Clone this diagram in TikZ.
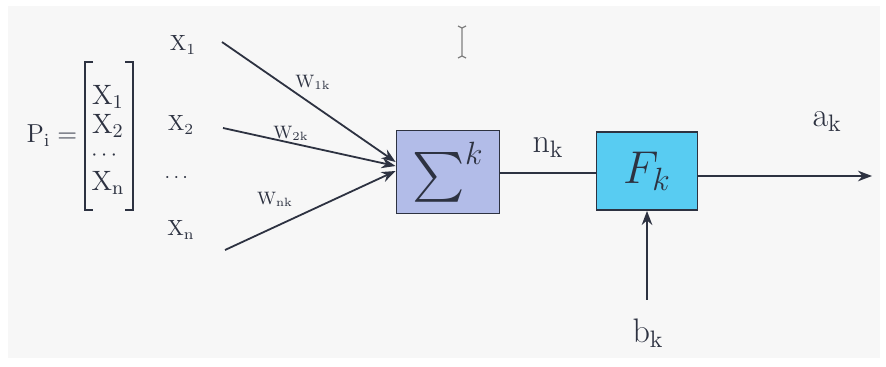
\documentclass[tikz,border=0pt]{standalone}
\usepackage{fix-cm}
\usepackage{tikz}
\usetikzlibrary{arrows.meta,positioning}
\usepackage{amsmath}
\definecolor{sumblue}{RGB}{178,188,232}
\definecolor{fcyan}{RGB}{88,204,242}
\definecolor{ink}{RGB}{45,50,65}

\begin{document}
\begin{tikzpicture}[x=0.5pt, y=-0.5pt, line width=0.9pt, draw=ink, text=ink]
            % Frame
            \useasboundingbox (0,0) rectangle (886,367);
            \fill[gray!6] (8,6) rectangle (880,358);

            % Input vector
            \node (pi) at (52,136) {\fontsize{13}{15}\selectfont $\mathrm{P_{i}} =$};
            \node[inner sep=0pt] (e1) at (108,97) {\fontsize{14}{14}\selectfont $\mathrm{X_1}$};
            \node[inner sep=0pt] (e2) at (108,126) {\fontsize{14}{14}\selectfont $\mathrm{X_2}$};
            \node[inner sep=0pt] (ed) at (106,156) {\fontsize{11}{11}\selectfont $\cdots$};
            \node[inner sep=0pt] (en) at (108,183) {\fontsize{14}{14}\selectfont $\mathrm{X_n}$};
            \draw (93,62) -- (85,62) -- (85,210) -- (93,210);
            \draw (125,62) -- (133,62) -- (133,210) -- (125,210);

            % Inputs
            \node (x1) at (183,45) {\fontsize{11}{13}\selectfont $\mathrm{X_1}$};
            \node (x2) at (181,125) {\fontsize{11}{13}\selectfont $\mathrm{X_2}$};
            \node (xd) at (178,178) {\fontsize{10}{12}\selectfont $\cdots$};
            \node (xn) at (181,230) {\fontsize{11}{13}\selectfont $\mathrm{X_n}$};
            \coordinate (s1) at (222,42);
            \coordinate (s2) at (223,128);
            \coordinate (sn) at (225,250);

            % Blocks
            \node[draw, fill=sumblue, minimum width=51.5pt, minimum height=41.5pt, inner sep=0pt] (sum) at (448,172)
                {\fontsize{23}{26}\selectfont $\sum\nolimits^{\scriptstyle k}$};
            \node[draw, fill=fcyan, minimum width=50.5pt, minimum height=39pt, inner sep=0pt] (f) at (647,171)
                {\fontsize{23}{26}\selectfont $F_k$};

            % Weights
            \draw[-{Stealth}] (s1) -- ([yshift=5pt]sum.west);
            \draw[-{Stealth}] (s2) -- ([yshift=3pt]sum.west);
            \draw[-{Stealth}] (sn) -- ([yshift=0.5pt]sum.west);
            \node (w1) at (313,82) {\fontsize{9}{11}\selectfont $\mathrm{W_{1k}}$};
            \node (w2) at (291,133) {\fontsize{9}{11}\selectfont $\mathrm{W_{2k}}$};
            \node (wn) at (275,199) {\fontsize{9}{11}\selectfont $\mathrm{W_{nk}}$};

            % Net input, bias, output
            \draw (sum.east |- 0,173) -- (f.west |- 0,173);
            \node (nk) at (548,148) {\fontsize{17}{20}\selectfont $\mathrm{n_k}$};
            \coordinate (bs) at (647,300);
            \draw[-{Stealth}] (bs) -- (f.south);
            \node (bk) at (648,333) {\fontsize{17}{20}\selectfont $\mathrm{b_k}$};
            \coordinate (out) at (872,176);
            \draw[-{Stealth}] (f.east |- out) -- (out);
            \node (ak) at (827,122) {\fontsize{17}{20}\selectfont $\mathrm{a_k}$};

            % Cursor
            \draw[gray, line width=0.6pt] (462,28) -- (462,56)
                (458,26) -- (462,28) -- (466,26) (458,58) -- (462,56) -- (466,58);
        \end{tikzpicture}
\end{document}
